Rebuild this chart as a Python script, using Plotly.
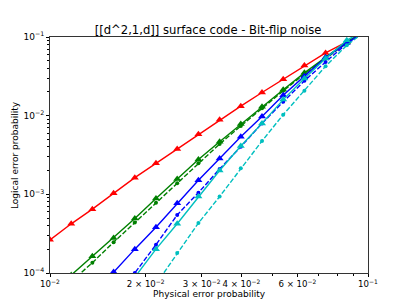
import plotly.graph_objects as go

# Physical error probabilities (sample grid)
p_phys = [0.01, 0.01166, 0.01359, 0.01585, 0.01848, 0.02154, 0.02512, 0.02929,
          0.03415, 0.03981, 0.04642, 0.05412, 0.06310, 0.07356, 0.08577, 0.1]

# Logical error probabilities
red_solid = [2.64e-4, 4.22e-4, 6.48e-4, 1.03e-3, 1.63e-3, 2.48e-3, 3.77e-3, 5.79e-3,
             8.86e-3, 1.32e-2, 1.97e-2, 2.91e-2, 4.34e-2, 6.27e-2, 8.65e-2, 0.12]
green_solid = [None, 9.4e-5, 1.63e-4, 2.78e-4, 4.92e-4, 8.83e-4, 1.57e-3, 2.77e-3,
               4.67e-3, 7.82e-3, 1.30e-2, 2.14e-2, 3.50e-2, 5.48e-2, 8.65e-2, 0.125]
green_dashed = [None, 7.8e-5, 1.35e-4, 2.46e-4, 4.38e-4, 7.79e-4, 1.38e-3, 2.48e-3,
                4.36e-3, 7.38e-3, 1.24e-2, 2.07e-2, 3.37e-2, 5.32e-2, 8.40e-2, 0.125]
blue_solid = [None, None, 5.2e-5, 1.03e-4, 2.01e-4, 3.81e-4, 7.68e-4, 1.51e-3,
              2.86e-3, 5.38e-3, 9.79e-3, 1.82e-2, 3.18e-2, 5.48e-2, 8.40e-2, 0.125]
blue_dashed = [None, None, None, 4.6e-5, 1.0e-4, 2.29e-4, 5.48e-4, 1.05e-3,
               2.10e-3, 4.03e-3, 7.98e-3, 1.50e-2, 2.77e-2, 4.82e-2, 8.24e-2, 0.125]
cyan_solid = [None, None, None, None, 8.85e-5, 2.01e-4, 4.22e-4, 9.36e-4,
              2.01e-3, 4.11e-3, 7.98e-3, 1.60e-2, 2.97e-2, 5.32e-2, 9.08e-2, 0.13]
cyan_dashed = [None, None, None, None, None, 7.2e-5, 1.79e-4, 4.31e-4,
               9.36e-4, 2.14e-3, 4.76e-3, 1.03e-2, 2.07e-2, 4.25e-2, 7.85e-2, 0.125]

x_tick_vals = [0.01, 0.02, 0.03, 0.04, 0.06, 0.1]
x_tick_text = ["10<sup>\u22122</sup>", "2 \u00d7 10<sup>\u22122</sup>", "3 \u00d7 10<sup>\u22122</sup>",
               "4 \u00d7 10<sup>\u22122</sup>", "6 \u00d7 10<sup>\u22122</sup>", "10<sup>\u22121</sup>"]
x_minor_vals = [0.05, 0.07, 0.08, 0.09]
y_tick_vals = [1e-4, 1e-3, 1e-2, 1e-1]
y_tick_text = ["10<sup>\u22124</sup>", "10<sup>\u22123</sup>", "10<sup>\u22122</sup>", "10<sup>\u22121</sup>"]
y_minor_vals = [m * d for d in (1e-4, 1e-3, 1e-2) for m in range(2, 10)]

series = [
    (red_solid, "#ff0000", "solid"),
    (green_solid, "#008000", "solid"),
    (green_dashed, "#008000", "dashed"),
    (blue_solid, "#0000ff", "solid"),
    (blue_dashed, "#0000ff", "dashed"),
    (cyan_solid, "#00bfbf", "solid"),
    (cyan_dashed, "#00bfbf", "dashed"),
]

fig = go.Figure()
for vals, color, style in series:
    if style == "solid":
        fig.add_trace(go.Scatter(
            x=p_phys, y=vals, mode="lines+markers",
            line=dict(color=color, width=1.4),
            marker=dict(symbol="triangle-up", size=7, color=color, line=dict(width=0)),
            connectgaps=False))
    else:
        fig.add_trace(go.Scatter(
            x=p_phys, y=vals, mode="lines+markers",
            line=dict(color=color, width=1.4, dash="5px,2px"),
            marker=dict(symbol="circle", size=4, color=color, line=dict(width=0)),
            connectgaps=False))

font = "DejaVu Sans, sans-serif"
fig.update_layout(
    width=409, height=307,
    margin=dict(l=50, r=41, t=37, b=34),
    paper_bgcolor="white", plot_bgcolor="white",
    showlegend=False,
    font=dict(family=font, size=9, color="black"),
    title=dict(text="[[d^2,1,d]] surface code - Bit-flip noise",
               xref="paper", x=0.497, xanchor="center", y=1 - 29.5 / 307, yanchor="middle",
               font=dict(family=font, size=11.6, color="black")),
)
fig.update_xaxes(
    type="log", range=[-2, -1],
    tickmode="array", tickvals=x_tick_vals, ticktext=x_tick_text, tickangle=0,
    ticks="outside", ticklen=3, tickwidth=0.8, tickcolor="black",
    minor=dict(tickmode="array", tickvals=x_minor_vals, ticks="outside",
               ticklen=2, tickwidth=0.6, tickcolor="black", showgrid=False),
    showgrid=False, zeroline=False,
    showline=True, linecolor="#333", linewidth=0.9, mirror=True,
    tickfont=dict(family=font, size=8.6, color="black"),
)
fig.update_yaxes(
    type="log", range=[-4, -1],
    tickmode="array", tickvals=y_tick_vals, ticktext=y_tick_text,
    ticks="outside", ticklen=3, tickwidth=0.8, tickcolor="black",
    minor=dict(tickmode="array", tickvals=y_minor_vals, ticks="outside",
               ticklen=2, tickwidth=0.6, tickcolor="black", showgrid=False),
    showgrid=False, zeroline=False,
    showline=True, linecolor="#333", linewidth=0.9, mirror=True,
    tickfont=dict(family=font, size=9, color="black"),
)
fig.add_annotation(text="Physical error probability", xref="paper", yref="paper",
                   x=0.5, y=-0.088, xanchor="center", yanchor="middle", showarrow=False,
                   font=dict(family=font, size=9, color="black"))
fig.add_annotation(text="Logical error probability", xref="paper", yref="paper",
                   x=-0.11, y=0.5, xanchor="center", yanchor="middle", showarrow=False,
                   textangle=-90, font=dict(family=font, size=9, color="black"))

fig.write_html("out.html", config={"displayModeBar": False},
               post_script="document.body.style.margin='0';")
